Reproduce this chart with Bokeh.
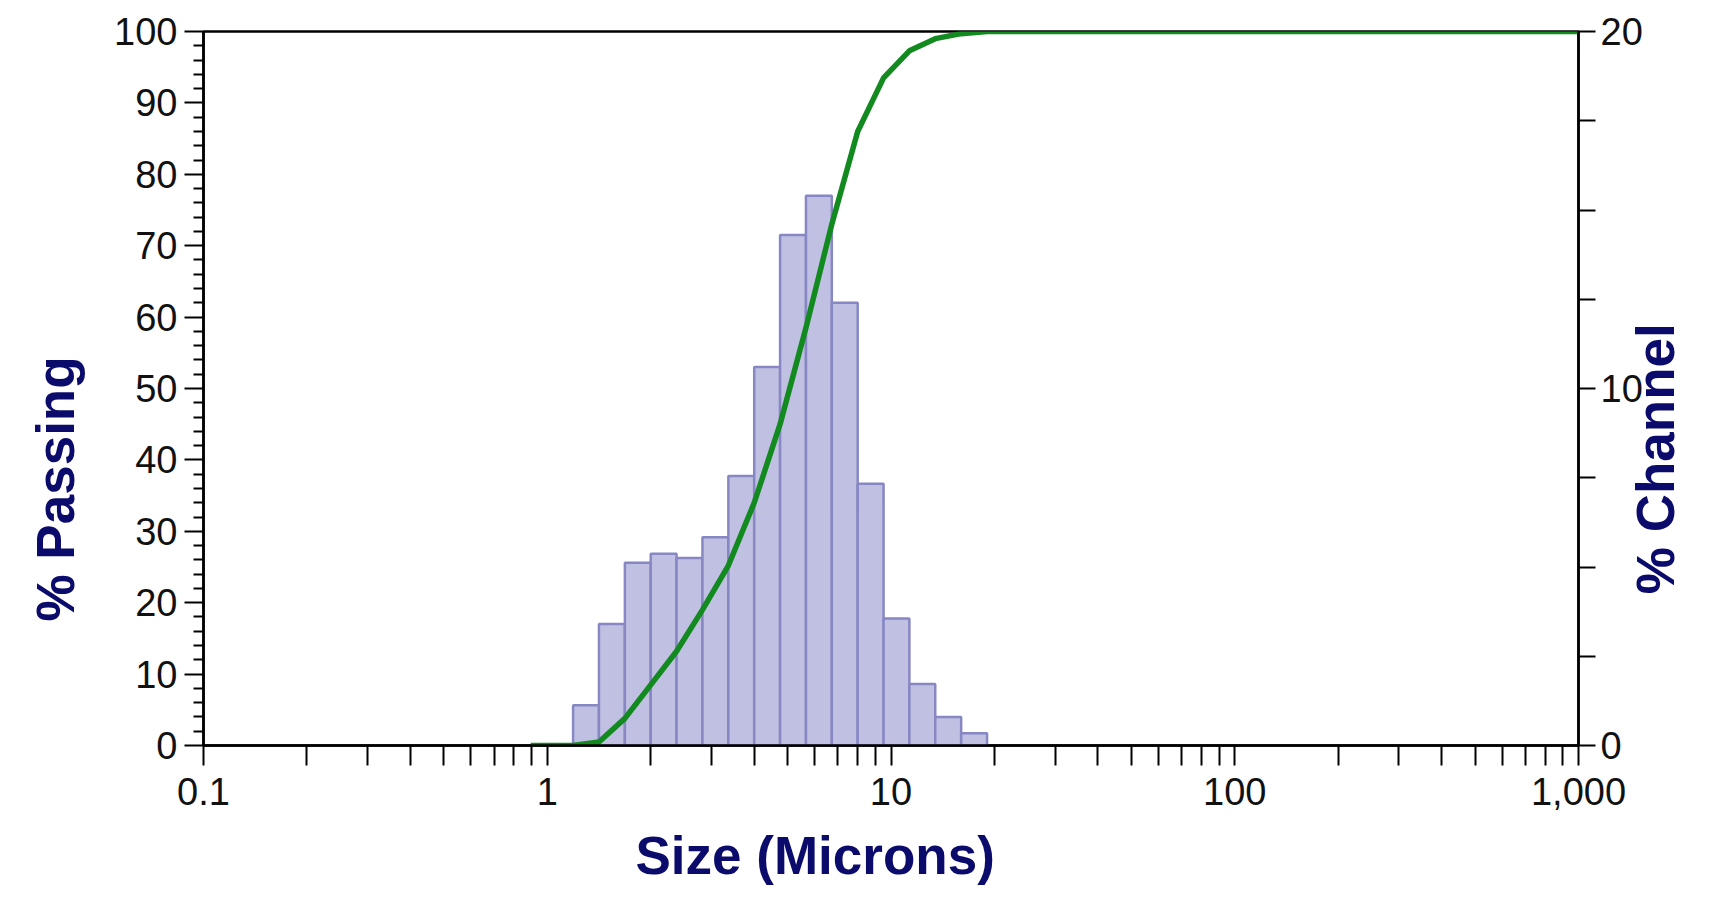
import math
from bokeh.plotting import figure
from bokeh.models import (Range1d, LinearAxis, FixedTicker, Title, ColumnDataSource)
from bokeh.embed import file_html
from bokeh.resources import INLINE

# ---- data ----
# channel edges (microns), 2^(1/4) progression
bin_edges = [1.189, 1.414, 1.682, 2.000, 2.378, 2.828, 3.364, 4.000, 4.757,
             5.657, 6.727, 8.000, 9.514, 11.31, 13.45, 16.00, 19.03]
# % in each channel (right axis)
channel_pct = [1.13, 3.4, 5.12, 5.37, 5.25, 5.83, 7.55, 10.6, 14.3,
               15.4, 12.4, 7.33, 3.56, 1.72, 0.8, 0.34]
# cumulative % passing (left axis)
cum_size = [0.895, 1.189, 1.414, 1.682, 2.000, 2.378, 2.828, 3.364, 4.000, 4.757,
            5.657, 6.727, 8.000, 9.514, 11.31, 13.45, 16.00, 19.03, 1000]
cum_pass = [0, 0, 0.5, 3.8, 8.5, 13.2, 19.0, 25.2, 34.0, 45.0,
            58.5, 73.0, 86.0, 93.5, 97.3, 99.0, 99.7, 100, 100]

x_ticks = [0.1, 1, 10, 100, 1000]
x_tick_labels = ["0.1", "1", "10", "100", "1,000"]
x_minor = [m * d for d in [0.1, 1, 10, 100] for m in range(2, 10)]
y_ticks = list(range(0, 101, 10))
y_minor = [v for v in range(0, 101, 2) if v % 10 != 0]
ch_ticks = [0, 10, 20]
ch_minor = [2.5, 5, 7.5, 12.5, 15, 17.5]

x_title = "Size (Microns)"
y_title = "% Passing"
y2_title = "% Channel"
Y2_TITLE_START = 4.24   # where the right title starts, on the % Channel scale

NAVY = "#0b0b6b"
FONT = "Liberation Sans"

p = figure(width=1719, height=912, x_axis_type="log",
           x_range=Range1d(0.1, 1000), y_range=Range1d(0, 100),
           output_backend="svg", toolbar_location=None,
           min_border_left=202, min_border_right=141,
           min_border_top=31, min_border_bottom=167)
p.extra_y_ranges = {"ch": Range1d(0, 20)}
p.xgrid.visible = False
p.ygrid.visible = False
p.outline_line_color = "black"
p.outline_line_width = 2.5
p.outline_line_alpha = 1
p.background_fill_color = "white"
p.border_fill_color = "white"

src = ColumnDataSource(dict(left=bin_edges[:-1], right=bin_edges[1:],
                            top=channel_pct, bottom=[0] * len(channel_pct)))
p.quad(left="left", right="right", top="top", bottom="bottom", source=src,
       y_range_name="ch", fill_color="#c0c0e2", line_color="#8787c4",
       line_width=2.5)

p.line(cum_size, cum_pass, line_color="#138a1f", line_width=5.5)

# bottom axis
xa = p.xaxis[0]
xa.ticker = FixedTicker(ticks=x_ticks, minor_ticks=x_minor)
xa.major_label_overrides = dict(zip(x_ticks, x_tick_labels))

# left axis
ya = p.yaxis[0]
ya.ticker = FixedTicker(ticks=y_ticks, minor_ticks=y_minor)

# right axis
ra = LinearAxis(y_range_name="ch",
                ticker=FixedTicker(ticks=ch_ticks, minor_ticks=ch_minor))
p.add_layout(ra, "right")

for ax in (xa, ya, ra):
    ax.axis_line_color = "black"
    ax.axis_line_width = 2.5
    ax.major_tick_line_color = "black"
    ax.minor_tick_line_color = "black"
    ax.major_tick_line_width = 2
    ax.minor_tick_line_width = 2
    ax.major_tick_in = 0
    ax.minor_tick_in = 0
    ax.major_label_text_font = FONT
    ax.major_label_text_font_size = "38px"
    ax.major_label_text_color = "#111111"

xa.major_tick_out = 20
xa.minor_tick_out = 20
xa.major_label_standoff = 12

ya.major_tick_out = 19
ya.minor_tick_out = 10
ya.major_label_standoff = 7

ra.major_tick_out = 17
ra.minor_tick_out = 17
ra.major_label_standoff = 5

# right-side title, reading bottom-to-top, drawn as the only label of a bare axis
ta = LinearAxis(y_range_name="ch",
                ticker=FixedTicker(ticks=[Y2_TITLE_START], minor_ticks=[]),
                major_label_overrides={Y2_TITLE_START: y2_title},
                major_label_orientation=math.pi / 2)
ta.axis_line_color = None
ta.major_tick_line_color = None
ta.minor_tick_line_color = None
ta.major_tick_out = 0
ta.major_tick_in = 0
ta.minor_tick_out = 0
ta.minor_tick_in = 0
ta.major_label_standoff = 10
ta.major_label_text_font = FONT
ta.major_label_text_font_style = "bold"
ta.major_label_text_font_size = "53px"
ta.major_label_text_color = NAVY
p.add_layout(ta, "right")

title_kw = dict(text_font=FONT, text_font_style="bold",
                text_font_size="53px", text_color=NAVY)
p.add_layout(Title(text=y_title, align="left", offset=124,
                   vertical_align="top", standoff=50, **title_kw), "left")
p.add_layout(Title(text=x_title, align="left", offset=432,
                   vertical_align="bottom", standoff=32, **title_kw), "below")

open("out.html", "w").write(file_html(p, INLINE))
